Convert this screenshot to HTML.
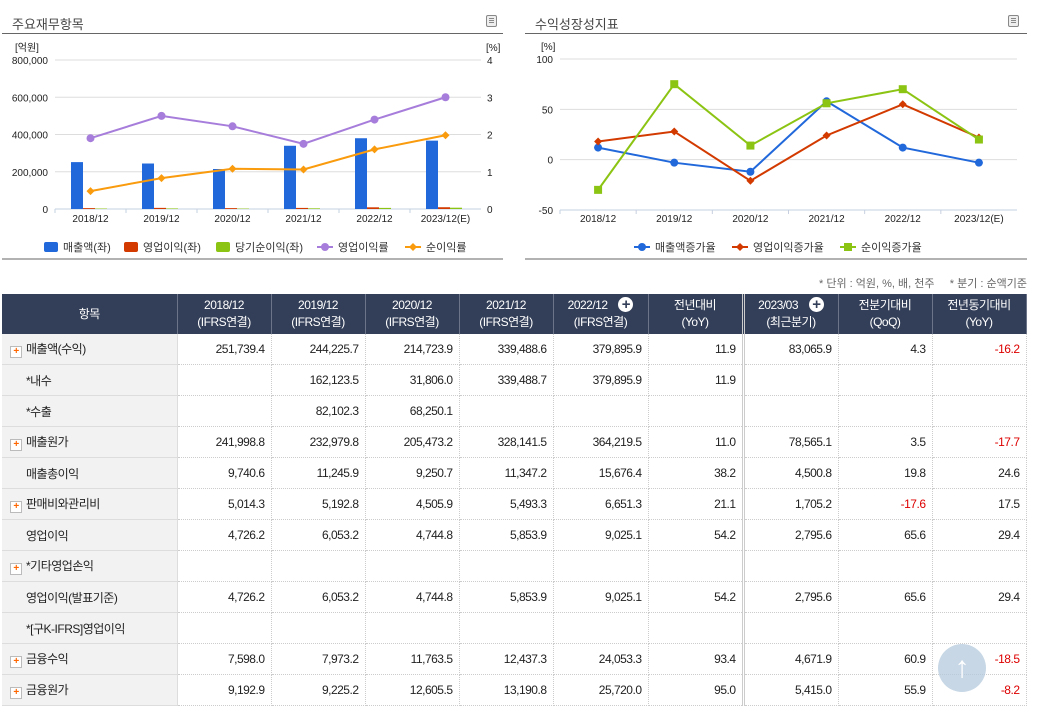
<!DOCTYPE html>
<html><head><meta charset="utf-8"><style>
body{margin:0;width:1037px;height:705px;overflow:hidden;background:#fff;font-family:"Liberation Sans","Noto Sans CJK KR",sans-serif;position:relative}
.ttl{position:absolute;font-size:13px;color:#444}
.hl{position:absolute;height:1px;background:#666}
.icon{position:absolute;width:11px;height:12px;border:1px solid #888;border-radius:2px;background:#eee;box-sizing:border-box;padding:2px 2px}
.icon i{display:block;height:1px;background:#888;margin-bottom:1px}
table{position:absolute;left:2px;top:294px;border-collapse:collapse;font-size:12px;color:#222;letter-spacing:-0.5px;table-layout:fixed;width:1024px}
th{background:#333f58;color:#fff;font-weight:normal;height:40px;line-height:17px;border-right:1px solid #6b7488;padding:0}
td{height:30px;border-bottom:1px dotted #ccc;border-right:1px dotted #ccc;text-align:right;padding:0 6px 0 0;white-space:nowrap}
td.n{text-align:left;background:#f2f2f2;border-right:1px solid #ddd;border-bottom:1px solid #ddd;padding-left:8px}
td.n.ind{padding-left:24px}
td.dl,th.dl{border-right:3px double #ccc}
.neg{color:#d00}
.pl{display:inline-block;width:10px;height:10px;border:1px solid #bbb;background:#fff;color:#f60;font-size:10px;line-height:10px;text-align:center;margin-right:4px;vertical-align:-1px;font-weight:bold}
.plus{display:inline-block;width:15px;height:15px;border-radius:50%;background:#fff;color:#333f58;font-weight:bold;line-height:15px;text-align:center;font-size:15px;margin-left:8px}
</style></head><body>
<div class="ttl" style="left:12px;top:14px">주요재무항목</div>
<div class="hl" style="left:2px;top:33px;width:501px"></div>
<div class="icon" style="left:486px;top:15px"><i></i><i></i><i></i></div>
<div class="ttl" style="left:535px;top:14px">수익성장성지표</div>
<div class="hl" style="left:525px;top:33px;width:502px"></div>
<div class="icon" style="left:1008px;top:15px"><i></i><i></i><i></i></div>
<svg id="c1" width="520" height="265" style="position:absolute;left:0;top:0" font-family="Liberation Sans, Noto Sans CJK KR, sans-serif" font-size="10"></svg>
<svg id="c2" width="517" height="265" style="position:absolute;left:520px;top:0" font-family="Liberation Sans, Noto Sans CJK KR, sans-serif" font-size="10"></svg>
<div style="position:absolute;right:10px;top:275px;font-size:11px;color:#666">* 단위 : 억원, %, 배, 천주 &nbsp; &nbsp; * 분기 : 순액기준</div>
<table>
<colgroup><col style="width:175px"><col style="width:94px"><col style="width:94px"><col style="width:94px"><col style="width:94px"><col style="width:95px"><col style="width:95px"><col style="width:95px"><col style="width:94px"><col style="width:94px"></colgroup>
<tr><th>항목</th><th>2018/12<br>(IFRS연결)</th><th>2019/12<br>(IFRS연결)</th><th>2020/12<br>(IFRS연결)</th><th>2021/12<br>(IFRS연결)</th><th>2022/12 <span class="plus">+</span><br>(IFRS연결)</th><th class="dl">전년대비<br>(YoY)</th><th>2023/03 <span class="plus">+</span><br>(최근분기)</th><th>전분기대비<br>(QoQ)</th><th>전년동기대비<br>(YoY)</th></tr>
<tr><td class="n"><span class="pl">+</span>매출액(수익)</td><td>251,739.4</td><td>244,225.7</td><td>214,723.9</td><td>339,488.6</td><td>379,895.9</td><td class="dl">11.9</td><td>83,065.9</td><td>4.3</td><td class="neg">-16.2</td></tr>
<tr><td class="n ind">*내수</td><td></td><td>162,123.5</td><td>31,806.0</td><td>339,488.7</td><td>379,895.9</td><td class="dl">11.9</td><td></td><td></td><td></td></tr>
<tr><td class="n ind">*수출</td><td></td><td>82,102.3</td><td>68,250.1</td><td></td><td></td><td class="dl"></td><td></td><td></td><td></td></tr>
<tr><td class="n"><span class="pl">+</span>매출원가</td><td>241,998.8</td><td>232,979.8</td><td>205,473.2</td><td>328,141.5</td><td>364,219.5</td><td class="dl">11.0</td><td>78,565.1</td><td>3.5</td><td class="neg">-17.7</td></tr>
<tr><td class="n ind">매출총이익</td><td>9,740.6</td><td>11,245.9</td><td>9,250.7</td><td>11,347.2</td><td>15,676.4</td><td class="dl">38.2</td><td>4,500.8</td><td>19.8</td><td>24.6</td></tr>
<tr><td class="n"><span class="pl">+</span>판매비와관리비</td><td>5,014.3</td><td>5,192.8</td><td>4,505.9</td><td>5,493.3</td><td>6,651.3</td><td class="dl">21.1</td><td>1,705.2</td><td class="neg">-17.6</td><td>17.5</td></tr>
<tr><td class="n ind">영업이익</td><td>4,726.2</td><td>6,053.2</td><td>4,744.8</td><td>5,853.9</td><td>9,025.1</td><td class="dl">54.2</td><td>2,795.6</td><td>65.6</td><td>29.4</td></tr>
<tr><td class="n"><span class="pl">+</span>*기타영업손익</td><td></td><td></td><td></td><td></td><td></td><td class="dl"></td><td></td><td></td><td></td></tr>
<tr><td class="n ind">영업이익(발표기준)</td><td>4,726.2</td><td>6,053.2</td><td>4,744.8</td><td>5,853.9</td><td>9,025.1</td><td class="dl">54.2</td><td>2,795.6</td><td>65.6</td><td>29.4</td></tr>
<tr><td class="n ind">*[구K-IFRS]영업이익</td><td></td><td></td><td></td><td></td><td></td><td class="dl"></td><td></td><td></td><td></td></tr>
<tr><td class="n"><span class="pl">+</span>금융수익</td><td>7,598.0</td><td>7,973.2</td><td>11,763.5</td><td>12,437.3</td><td>24,053.3</td><td class="dl">93.4</td><td>4,671.9</td><td>60.9</td><td class="neg">-18.5</td></tr>
<tr><td class="n"><span class="pl">+</span>금융원가</td><td>9,192.9</td><td>9,225.2</td><td>12,605.5</td><td>13,190.8</td><td>25,720.0</td><td class="dl">95.0</td><td>5,415.0</td><td>55.9</td><td class="neg">-8.2</td></tr>
</table>
<div style="position:absolute;left:938px;top:644px;width:48px;height:48px;border-radius:50%;background:rgba(180,202,220,0.75);color:#fff;font-size:30px;font-weight:bold;text-align:center;line-height:48px">↑</div>
<script>
const cats=["2018/12","2019/12","2020/12","2021/12","2022/12","2023/12(E)"];
const sales=[251739,244226,214724,339489,379896,367000];
const opInc=[4726,6053,4745,5854,9025,9500];
const netInc=[2500,3000,2300,3600,6000,7000];
const opMargin=[1.9,2.5,2.22,1.75,2.4,3.0];
const netMargin=[0.48,0.83,1.08,1.06,1.6,1.98];
const leftTicks=["0","200,000","400,000","600,000","800,000"];
const rightTicks=["0","1","2","3","4"];
const salesG=[12,-3,-12,58,12,-3];
const opG=[18,28,-21,24,55,22];
const netG=[-30,75,14,56,70,20];
const gTicks=["-50","0","50","100"];
const NS="http://www.w3.org/2000/svg";
function mk(svg,t,a,txt){const e=document.createElementNS(NS,t);for(const k in a)e.setAttribute(k,a[k]);if(txt!==undefined)e.textContent=txt;svg.appendChild(e);return e;}
(function(){
const s=document.getElementById('c1');
const x0=55,x1=481,yT=60,yB=209,bw=(x1-x0)/cats.length;
const yL=v=>yB-(v/800000)*(yB-yT), yR=v=>yB-(v/4)*(yB-yT), cx=i=>x0+bw*(i+.5);
leftTicks.forEach((t,i)=>{const y=yB-i*(yB-yT)/4;
 if(i>0){const g=mk(s,'line',{x1:x0,x2:x1,y1:y,y2:y,stroke:'#ddd'});}
 const l=mk(s,'text',{x:48,y:y+4,'text-anchor':'end',fill:'#222'},t);
 const r=mk(s,'text',{x:487,y:y+4,fill:'#222'},rightTicks[i]);});
mk(s,'text',{x:15,y:51,fill:'#222'},'[억원]');mk(s,'text',{x:486,y:51,fill:'#222'},'[%]');
mk(s,'line',{x1:x0,x2:x1,y1:yB,y2:yB,stroke:'#c6d0e0'});
cats.forEach((c,i)=>{const bx=x0+bw*i;
 mk(s,'line',{x1:bx,x2:bx,y1:yB,y2:yB+4,stroke:'#c6d0e0'});
 const t=mk(s,'text',{x:cx(i),y:222,'text-anchor':'middle',fill:'#222'},c);
 const b=mk(s,'rect',{x:bx+16,y:yL(sales[i]),width:12,height:yB-yL(sales[i]),fill:'#2168db'});
 const o=mk(s,'rect',{x:bx+28,y:yL(opInc[i]),width:12,height:yB-yL(opInc[i]),fill:'#d23a00'});
 const n=mk(s,'rect',{x:bx+40,y:yL(netInc[i]),width:12,height:yB-yL(netInc[i]),fill:'#8cc414'});
});
const l1=mk(s,'polyline',{points:opMargin.map((v,i)=>cx(i)+','+yR(v)).join(' '),fill:'none',stroke:'#a77ddb','stroke-width':2});
opMargin.forEach((v,i)=>{const p=mk(s,'circle',{cx:cx(i),cy:yR(v),r:4,fill:'#a77ddb'});});
const l2=mk(s,'polyline',{points:netMargin.map((v,i)=>cx(i)+','+yR(v)).join(' '),fill:'none',stroke:'#f99b0c','stroke-width':2});
netMargin.forEach((v,i)=>{const x=cx(i),y=yR(v);const p=mk(s,'polygon',{points:`${x},${y-4} ${x+4},${y} ${x},${y+4} ${x-4},${y}`,fill:'#f99b0c'});});
const lg=[['rect','#2168db','매출액(좌)',44],['rect','#d23a00','영업이익(좌)',124],['rect','#8cc414','당기순이익(좌)',216],['circle','#a77ddb','영업이익률',319],['dia','#f99b0c','순이익률',407]];
lg.forEach(([k,c,t,x])=>{const y=247;
 if(k==='rect')mk(s,'rect',{x:x,y:y-5,width:14,height:10,rx:2,fill:c});
 else{mk(s,'line',{x1:x-2,x2:x+14,y1:y,y2:y,stroke:c,'stroke-width':2});
  if(k==='circle')mk(s,'circle',{cx:x+6,cy:y,r:4,fill:c});else mk(s,'polygon',{points:`${x+6},${y-4} ${x+10},${y} ${x+6},${y+4} ${x+2},${y}`,fill:c});}
 const e=mk(s,'text',{x:x+19,y:y+4,fill:'#333','font-size':11},t);});
mk(s,'line',{x1:2,x2:503,y1:259,y2:259,stroke:'#666'});
})();
(function(){
const s=document.getElementById('c2');
const x0=40,x1=497,yT=59,yB=210,bw=(x1-x0)/cats.length;
const y=v=>yB-((v+50)/150)*(yB-yT), cx=i=>x0+bw*(i+.5);
gTicks.forEach((t,i)=>{const v=+t;const yy=y(v);
 if(i>0){const g=mk(s,'line',{x1:x0,x2:x1,y1:yy,y2:yy,stroke:'#ddd'});}
 const l=mk(s,'text',{x:33,y:yy+4,'text-anchor':'end',fill:'#222'},t);});
mk(s,'text',{x:21,y:50,fill:'#222'},'[%]');
mk(s,'line',{x1:x0,x2:x1,y1:yB,y2:yB,stroke:'#c6d0e0'});
cats.forEach((c,i)=>{mk(s,'line',{x1:x0+bw*i,x2:x0+bw*i,y1:yB,y2:yB+4,stroke:'#c6d0e0'});
 const t=mk(s,'text',{x:cx(i),y:222,'text-anchor':'middle',fill:'#222'},c);});
function series(d,c,k,name){const l=mk(s,'polyline',{points:d.map((v,i)=>cx(i)+','+y(v)).join(' '),fill:'none',stroke:c,'stroke-width':2});
 d.forEach((v,i)=>{const X=cx(i),Y=y(v);let p;
  if(k==='c')p=mk(s,'circle',{cx:X,cy:Y,r:4,fill:c});
  else if(k==='d')p=mk(s,'polygon',{points:`${X},${Y-4} ${X+4},${Y} ${X},${Y+4} ${X-4},${Y}`,fill:c});
  else p=mk(s,'rect',{x:X-4,y:Y-4,width:8,height:8,fill:c});
  });}
series(salesG,'#2168db','c','sales-growth');
series(opG,'#d23a00','d','op-growth');
series(netG,'#8cc414','s','net-growth');
const lg=[['c','#2168db','매출액증가율',114],['d','#d23a00','영업이익증가율',212],['s','#8cc414','순이익증가율',320]];
lg.forEach(([k,c,t,x])=>{const yy=247;mk(s,'line',{x1:x,x2:x+16,y1:yy,y2:yy,stroke:c,'stroke-width':2});
 if(k==='c')mk(s,'circle',{cx:x+8,cy:yy,r:4,fill:c});else if(k==='d')mk(s,'polygon',{points:`${x+8},${yy-4} ${x+12},${yy} ${x+8},${yy+4} ${x+4},${yy}`,fill:c});else mk(s,'rect',{x:x+4,y:yy-4,width:8,height:8,fill:c});
 const e=mk(s,'text',{x:x+21,y:yy+4,fill:'#333','font-size':11},t);});
mk(s,'line',{x1:5,x2:507,y1:259,y2:259,stroke:'#666'});
})();
</script>
</body></html>
